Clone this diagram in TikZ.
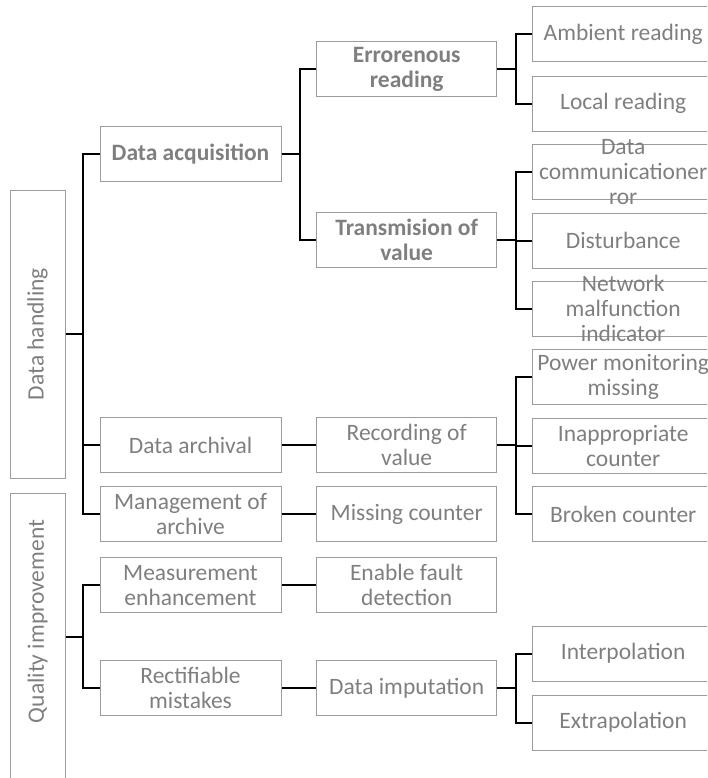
\documentclass[tikz,border=0pt]{standalone}
\usepackage{fontspec}
\setmainfont{Carlito}
\usepackage{xcolor}
\usepackage{tikz}

\definecolor{txtgray}{HTML}{7F7F7F}
\definecolor{boxgray}{HTML}{9C9C9C}

\begin{document}
\begin{tikzpicture}[x=1pt, y=-1pt,
  box/.style={draw=boxgray, line width=1pt, text=txtgray, inner sep=0pt, align=center,
    minimum width=181pt, minimum height=55pt, font=\fontsize{23.5}{25}\selectfont},
  strong/.style={box, font=\fontsize{23.5}{25}\selectfont\bfseries},
  root/.style={draw=boxgray, line width=1pt, minimum width=55pt, inner sep=0pt},
  overtext/.style={text=txtgray, inner sep=0pt, align=center, font=\fontsize{23.5}{25}\selectfont},
  link/.style={line width=2pt, black}]
  \useasboundingbox (0,0) rectangle (707,778);
  \clip (0,0) rectangle (707,778);

  % Top level
  \node[root, minimum height=288pt] (dh) at (37.5,334) {};
  \node[overtext, rotate=90] (dhtext) at (dh) {Data handling};
  \node[root, minimum height=287pt] (qi) at (37.5,636.5) {};
  \node[overtext, rotate=90] (qitext) at (37.5,621.5) {Quality improvement};

  % Second level
  \node[strong] (acq) at (190.5,154.3) {Data acquisition};
  \node[box] (arch) at (190.5,445.2) {Data archival};
  \node[box] (mgmt) at (190.5,514.2) {Management of\\archive};
  \node[box] (meas) at (190.5,585.2) {Measurement\\enhancement};
  \node[box] (rect) at (190.5,688.4) {Rectifiable\\mistakes};

  % Third level
  \node[strong, minimum width=180pt] (err) at (406.7,69) {Errorenous\\reading};
  \node[strong, minimum width=180pt] (trans) at (406.7,240.2) {Transmision of\\value};
  \node[box, minimum width=180pt] (rec) at (406.7,445.2) {Recording of\\value};
  \node[box, minimum width=180pt] (miss) at (406.7,514.2) {Missing counter};
  \node[box, minimum width=180pt] (fault) at (406.7,585.2) {Enable fault\\detection};
  \node[box, minimum width=180pt] (imp) at (406.7,688.4) {Data imputation};

  % Leaves
  \node[box] (amb) at (623.2,34.5) {Ambient reading};
  \node[box] (loc) at (623.2,103.7) {Local reading};
  \node[box] (comm) at (623.2,171.7) {};
  \node[overtext] (commtext) at (comm) {Data\\communicationer\\ror};
  \node[box] (dist) at (623.2,240.5) {Disturbance};
  \node[box] (net) at (623.2,308.9) {};
  \node[overtext] (nettext) at (net) {Network\\malfunction\\indicator};
  \node[box] (pow) at (623.2,377.2) {Power monitoring\\missing};
  \node[box] (inap) at (623.2,445.5) {Inappropriate\\counter};
  \node[box] (brk) at (623.2,514.2) {Broken counter};
  \node[box] (interp) at (623.2,653.7) {Interpolation};
  \node[box] (extrap) at (623.2,722.5) {Extrapolation};

  % Connections
  \draw[link] (dh.east) -- +(17.7,0) |- (acq.west);
  \draw[link] (dh.east) -- +(17.7,0) |- (arch.west);
  \draw[link] (dh.east) -- +(17.7,0) |- (mgmt.west);
  \draw[link] (qi.east) -- +(17.7,0) |- (meas.west);
  \draw[link] (qi.east) -- +(17.7,0) |- (rect.west);
  \draw[link] (acq.east) -- +(18,0) |- (err.west);
  \draw[link] (acq.east) -- +(18,0) |- (trans.west);
  \draw[link] (arch) -- (rec);
  \draw[link] (mgmt) -- (miss);
  \draw[link] (meas) -- (fault);
  \draw[link] (rect) -- (imp);
  \draw[link] (err.east) -- +(18.3,0) |- (amb.west);
  \draw[link] (err.east) -- +(18.3,0) |- (loc.west);
  \draw[link] (trans.east) -- +(18.3,0) |- (comm.west);
  \draw[link] (trans.east) -- +(18.3,0) |- (dist.west);
  \draw[link] (trans.east) -- +(18.3,0) |- (net.west);
  \draw[link] (rec.east) -- +(18.3,0) |- (pow.west);
  \draw[link] (rec.east) -- +(18.3,0) |- (inap.west);
  \draw[link] (rec.east) -- +(18.3,0) |- (brk.west);
  \draw[link] (imp.east) -- +(18.3,0) |- (interp.west);
  \draw[link] (imp.east) -- +(18.3,0) |- (extrap.west);
\end{tikzpicture}
\end{document}
